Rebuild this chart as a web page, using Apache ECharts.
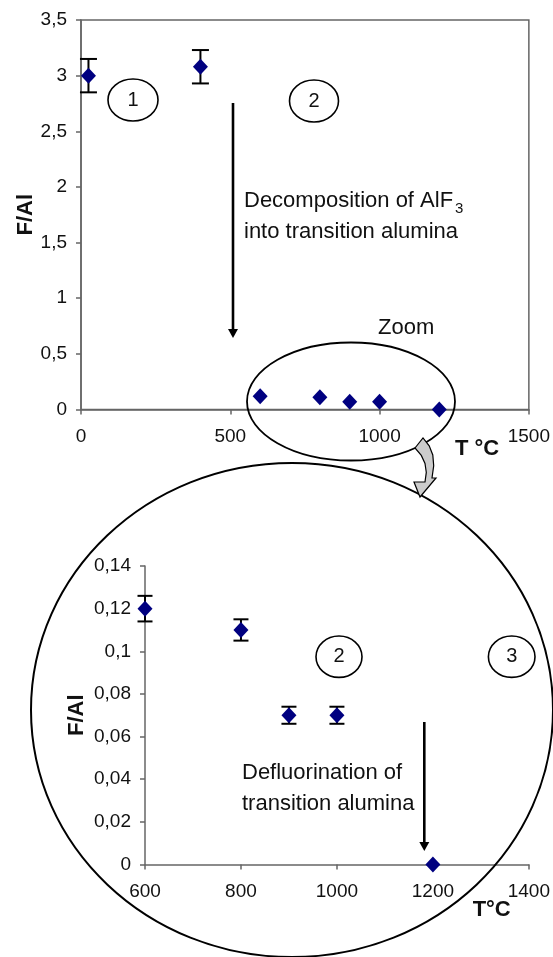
<!DOCTYPE html>
<html>
<head>
<meta charset="utf-8">
<script src="https://cdn.jsdelivr.net/npm/echarts@6/dist/echarts.min.js"></script>
<style>
html,body{margin:0;padding:0;background:#fff;}
#chart{width:553px;height:957px;}
</style>
</head>
<body>
<div id="chart"></div>
<script>
// ---- data ----
const tempLow = [25, 400];
const fAlLow = [3.0, 3.08];
const errLow = [0.15, 0.15];

const tempHigh = [600, 800, 900, 1000, 1200];
const fAlHigh = [0.12, 0.11, 0.07, 0.07, 0];
const errHigh = [0.006, 0.005, 0.004, 0.004, 0];

const topXTicks = [0, 500, 1000, 1500];
const topYTicks = [0, 0.5, 1, 1.5, 2, 2.5, 3, 3.5];
const zoomXTicks = [600, 800, 1000, 1200, 1400];
const zoomYTicks = [0, 0.02, 0.04, 0.06, 0.08, 0.1, 0.12, 0.14];

// ---- helpers ----
const FONT = '"Liberation Sans", Arial, sans-serif';
const AXIS_COLOR = '#666';
const MARK_COLOR = '#000080';
const LABEL_SIZE = 19;

function commaFmt(v) { return String(+(+v).toFixed(2)).replace('.', ','); }
function plainFmt(v) { return String(Math.round(v)); }

function errRender(capW) {
  return function (params, api) {
    const x = api.value(0), y = api.value(1), e = api.value(2);
    const p = api.coord([x, y + e]);
    const q = api.coord([x, y - e]);
    const h = capW / 2;
    const st = { stroke: '#000', lineWidth: 2 };
    return {
      type: 'group',
      children: [
        { type: 'line', shape: { x1: p[0], y1: p[1], x2: q[0], y2: q[1] }, style: st },
        { type: 'line', shape: { x1: p[0] - h, y1: p[1], x2: p[0] + h, y2: p[1] }, style: st },
        { type: 'line', shape: { x1: q[0] - h, y1: q[1], x2: q[0] + h, y2: q[1] }, style: st }
      ]
    };
  };
}

function axisCommon(extra, labelMargin, fmt) {
  return Object.assign({
    type: 'value',
    splitLine: { show: false },
    nameMoveOverlap: false,
    axisLine: { show: true, lineStyle: { color: AXIS_COLOR, width: 1.5 } },
    axisTick: { show: true, inside: false, length: 5, lineStyle: { color: AXIS_COLOR, width: 1.5 } },
    axisLabel: { color: '#111', fontSize: LABEL_SIZE, fontFamily: FONT, margin: labelMargin, formatter: fmt }
  }, extra);
}

const topPoints = tempLow.map((t, i) => [t, fAlLow[i]]).concat(tempHigh.map((t, i) => [t, fAlHigh[i]]));
const topErrData = tempLow.map((t, i) => [t, fAlLow[i], errLow[i]]).filter(d => d[2] > 0);
const zoomPoints = tempHigh.map((t, i) => [t, fAlHigh[i]]);
const zoomErrData = tempHigh.map((t, i) => [t, fAlHigh[i], errHigh[i]]).filter(d => d[2] > 0);

const nameStyle = { fontSize: 22, fontWeight: 'bold', fontFamily: FONT, color: '#111' };

function txt(x, y, s, size, opts) {
  return {
    type: 'text', x: x, y: y, z: 50,
    style: Object.assign({ text: s, font: (size || 22) + 'px ' + FONT, fill: '#111', align: 'left', verticalAlign: 'middle' }, opts || {})
  };
}
function ell(cx, cy, rx, ry, lw) {
  return { type: 'ellipse', z: 40, shape: { cx: cx, cy: cy, rx: rx, ry: ry }, style: { fill: 'none', stroke: '#000', lineWidth: lw || 1.6 } };
}
function arrowDown(x, y1, y2, lw) {
  return [
    { type: 'line', z: 40, shape: { x1: x, y1: y1, x2: x, y2: y2 - 8 }, style: { stroke: '#000', lineWidth: lw } },
    { type: 'polygon', z: 40, shape: { points: [[x - 5, y2 - 9], [x + 5, y2 - 9], [x, y2]] }, style: { fill: '#000' } }
  ];
}

const connectorPts = [
  [415, 448], [423, 438], [429.2, 445.8], [432.8, 455], [433.7, 465.8], [432, 478],
  [436, 478], [420, 497], [414, 482], [425, 482],
  [426.3, 472.4], [425, 463.5], [421.3, 455.4]
];

const markerStyle = { color: MARK_COLOR, opacity: 1 };

const option = {
  backgroundColor: '#fff',
  animation: false,
  grid: [
    { left: 81, top: 20, width: 448, height: 389.5, show: true, borderColor: AXIS_COLOR, borderWidth: 1.5, backgroundColor: 'transparent' },
    { left: 145, top: 566, width: 386, height: 298.5 }
  ],
  xAxis: [
    axisCommon({ gridIndex: 0, min: 0, max: 1500, interval: 500 }, 18, plainFmt),
    axisCommon({ gridIndex: 1, min: 600, max: 1400, interval: 200 }, 18, plainFmt)
  ],
  yAxis: [
    axisCommon({ gridIndex: 0, min: 0, max: 3.5, interval: 0.5, name: 'F/Al', nameLocation: 'middle', nameGap: 44, nameTextStyle: nameStyle }, 14, commaFmt),
    axisCommon({ gridIndex: 1, min: 0, max: 0.14, interval: 0.02, name: 'F/Al', nameLocation: 'middle', nameGap: 57, nameTextStyle: nameStyle }, 14, commaFmt)
  ],
  series: [
    { type: 'custom', xAxisIndex: 0, yAxisIndex: 0, renderItem: errRender(17), data: topErrData, encode: { x: 0, y: 1 }, z: 2, silent: true },
    { type: 'scatter', xAxisIndex: 0, yAxisIndex: 0, symbol: 'diamond', symbolSize: [15, 16], itemStyle: markerStyle, data: topPoints, z: 3 },
    { type: 'custom', xAxisIndex: 1, yAxisIndex: 1, renderItem: errRender(15), data: zoomErrData, encode: { x: 0, y: 1 }, z: 2, silent: true },
    { type: 'scatter', xAxisIndex: 1, yAxisIndex: 1, symbol: 'diamond', symbolSize: [15, 16], itemStyle: markerStyle, data: zoomPoints, z: 3 }
  ],
  graphic: {
    elements: [
      // top annotations
      ell(133, 100, 25, 21),
      txt(133, 100, '1', 20, { align: 'center' }),
      ell(314, 101, 24.5, 21),
      txt(314, 101, '2', 20, { align: 'center' }),
      ...arrowDown(233, 103, 338, 2.6),
      txt(244, 201, 'Decomposition of AlF', 22),
      txt(455, 209, '3', 15),
      txt(244, 232, 'into transition alumina', 22),
      txt(378, 328, 'Zoom', 22),
      ell(351, 401.5, 104, 59, 1.8),
      txt(477, 449, 'T °C', 22, { align: 'center', font: 'bold 22px ' + FONT }),
      // connector curved arrow
      { type: 'polygon', z: 45, shape: { points: connectorPts }, style: { fill: '#ccc', stroke: '#000', lineWidth: 1.2 } },
      // big zoom circle
      ell(292, 710, 261, 247, 2),
      // bottom annotations
      ell(339, 656.7, 23, 20.7),
      txt(339, 656.7, '2', 20, { align: 'center' }),
      ell(511.7, 656.7, 23.3, 20.7),
      txt(511.7, 656.7, '3', 20, { align: 'center' }),
      ...arrowDown(424.3, 722, 851, 2.6),
      txt(242, 773, 'Defluorination of', 22),
      txt(242, 804, 'transition alumina', 22),
      txt(491.7, 910, 'T°C', 22, { align: 'center', font: 'bold 22px ' + FONT })
    ]
  }
};

const chart = echarts.init(document.getElementById('chart'), null, { renderer: 'canvas' });
chart.setOption(option);
</script>
</body>
</html>
